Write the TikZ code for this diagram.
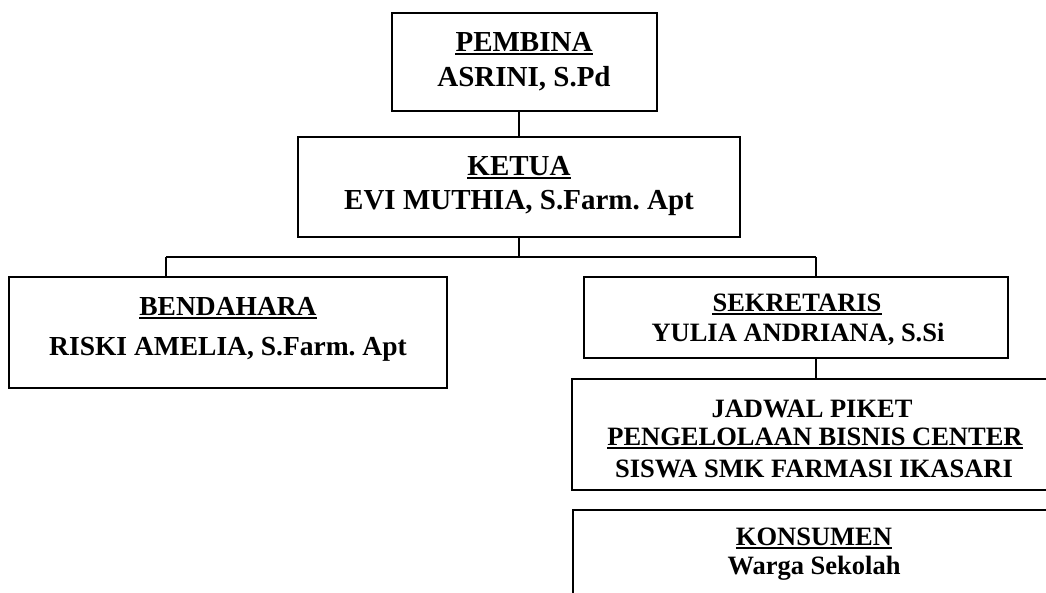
\documentclass[tikz,border=0pt]{standalone}
\usepackage{fontspec}
\setmainfont{Liberation Serif}
\frenchspacing
\begin{document}
\begin{tikzpicture}[x=1pt,y=-1pt,
  box/.style={draw, line width=2pt, inner sep=0pt, rectangle},
  conn/.style={line width=1.3pt},
  uline/.style={line width=2.2pt},
  bigtxt/.style={anchor=base, inner sep=0pt, font=\fontsize{29}{33}\selectfont\bfseries\frenchspacing},
  midtxt/.style={anchor=base, inner sep=0pt, font=\fontsize{27.5}{31}\selectfont\bfseries\frenchspacing},
  smalltxt/.style={anchor=base, inner sep=0pt, font=\fontsize{26.5}{30}\selectfont\bfseries\frenchspacing}]
\useasboundingbox (0,0) rectangle (1046,592);
\clip (0,0) rectangle (1046,592);
% boxes
\node[box, minimum width=265pt, minimum height=98pt] (pembina) at (524.5,62) {};
\node[box, minimum width=442pt, minimum height=100pt] (ketua) at (519,187) {};
\node[box, minimum width=438pt, minimum height=111pt] (bendahara) at (228,332.5) {};
\node[box, minimum width=424pt, minimum height=81pt] (sekretaris) at (796,317.5) {};
\node[box, minimum width=482pt, minimum height=111pt] (jadwal) at (813,434.5) {};
\node[box, minimum width=481pt, minimum height=110pt] (konsumen) at (813.5,565) {};
% texts
\node[bigtxt] (tpembina) at (524,51) {PEMBINA};
\node[bigtxt] (tasrini) at (524,86) {ASRINI, S.Pd};
\node[bigtxt] (tketua) at (519,175) {KETUA};
\node[bigtxt] (tevi) at (519,209) {EVI MUTHIA, S.Farm. Apt};
\node[midtxt] (tbendahara) at (228,315) {BENDAHARA};
\node[midtxt] (triski) at (228,355) {RISKI AMELIA, S.Farm. Apt};
\node[smalltxt] (tsekretaris) at (797,311) {SEKRETARIS};
\node[smalltxt] (tyulia) at (798,341) {YULIA ANDRIANA, S.Si};
\node[smalltxt] (tjadwal) at (812,417) {JADWAL PIKET};
\node[smalltxt] (tpengelolaan) at (815,445) {PENGELOLAAN BISNIS CENTER};
\node[smalltxt] (tsiswa) at (814,477) {SISWA SMK FARMASI IKASARI};
\node[smalltxt] (tkonsumen) at (814,545) {KONSUMEN};
\node[smalltxt] (twarga) at (814,574) {Warga Sekolah};
% underlines
\foreach \t in {tpembina,tketua,tbendahara,tsekretaris,tpengelolaan,tkonsumen}
  \draw[uline] ([yshift=-3pt]\t.base west) -- ([yshift=-3pt]\t.base east);
% connectors
\coordinate (hl) at (166,257);
\coordinate (hr) at (816,257);
\draw[conn] (ketua.north) -- (ketua.north |- pembina.south);
\draw[conn] (ketua.south) -- (ketua.south |- hl);
\draw[conn] (hl) -- (hr);
\draw[conn] (hl) -- (hl |- bendahara.north);
\draw[conn] (hr) -- (hr |- sekretaris.north);
\draw[conn] (hr |- sekretaris.south) -- (hr |- jadwal.north);
\end{tikzpicture}
\end{document}
